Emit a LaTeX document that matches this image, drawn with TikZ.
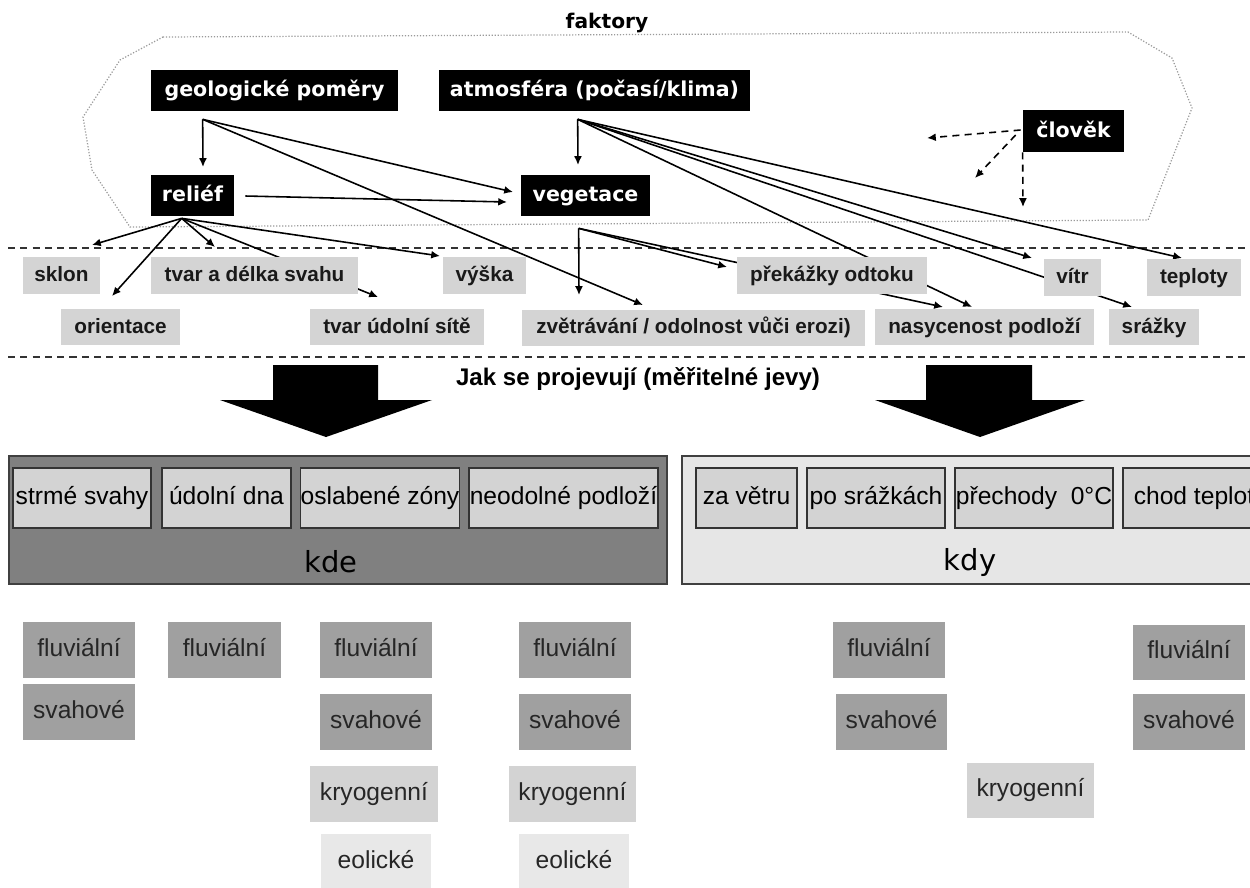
\documentclass[tikz,border=0pt]{standalone}
\usepackage{fontspec}
\setmainfont{Liberation Sans}
\newfontfamily\dvs{DejaVu Sans}
\usetikzlibrary{arrows.meta,calc}
\pgfdeclarelayer{bg}
\pgfsetlayers{bg,main}
\definecolor{lblc}{HTML}{D4D4D4}
\definecolor{kdec}{HTML}{808080}
\definecolor{kdyc}{HTML}{E6E6E6}
\definecolor{iboxc}{HTML}{D3D3D3}
\definecolor{dgc}{HTML}{A0A0A0}
\definecolor{lgc}{HTML}{D3D3D3}
\definecolor{vlgc}{HTML}{E8E8E8}
\definecolor{cloudc}{HTML}{9A9A9A}
\begin{document}
\begin{tikzpicture}[x=0.02cm,y=-0.02cm,
  sz/.style 2 args={minimum width=#1*0.02cm, minimum height=#2*0.02cm},
  even/.style={text height=0.9em, text depth=0.21em},
  blk/.style={fill=black, text=white, inner sep=0pt, even, font=\dvs\bfseries\fontsize{11.7}{13}\selectfont},
  lbl/.style={fill=lblc, text=black!90, inner sep=0pt, even, font=\bfseries\fontsize{11.8}{13}\selectfont},
  ibx/.style={fill=iboxc, draw=black!80, line width=0.7pt, inner sep=0pt, even, font=\fontsize{14}{16}\selectfont},
  bbx/.style={inner sep=0pt, text=black!85, even, font=\fontsize{14}{16}\selectfont},
  bigbox/.style={draw=black!75, line width=0.7pt, inner sep=0pt},
  arr/.style={-{Latex[length=5pt,width=4.5pt]}, line width=0.9pt},
  darr/.style={arr, dash pattern=on 4pt off 3pt},
  dashln/.style={line width=0.7pt, dash pattern=on 4pt off 3pt, black!80},
  ttl/.style={inner sep=0pt, anchor=base, font=\bfseries\fontsize{13.7}{15}\selectfont}
]
\useasboundingbox (0,0) rectangle (1250,887);
\clip (0,0) rectangle (1250,887);

% ---------- top titles ----------
\node[ttl, font=\dvs\bfseries\fontsize{11.5}{13}\selectfont] (fakt) at (607,28) {faktory};

% ---------- black factor nodes ----------
\node[blk, sz={247}{41}] (geol) at (274.5,90.5) {geologické poměry};
\node[blk, sz={311}{41}] (atm) at (594.5,90.5) {atmosféra (počasí/klima)};
\node[blk, sz={83}{41}] (relief) at (192.5,195.5) {reliéf};
\node[blk, sz={129}{41}] (veg) at (585.5,195.5) {vegetace};
\node[blk, sz={101}{42}] (clovek) at (1073.5,131) {člověk};

% ---------- grey labels ----------
\node[lbl, sz={77}{37}] (sklon) at (61.5,275.5) {sklon};
\node[lbl, sz={207}{37}] (tvar) at (254.5,275.5) {tvar a délka svahu};
\node[lbl, sz={83}{37}] (vyska) at (484.5,275.5) {výška};
\node[lbl, sz={190}{37}] (prek) at (832,275.5) {překážky odtoku};
\node[lbl, sz={57}{37}] (vitr) at (1072.5,277.5) {vítr};
\node[lbl, sz={94}{37}] (tepl) at (1194,277.5) {teploty};
\node[lbl, sz={119}{36}] (orient) at (120.5,327) {orientace};
\node[lbl, sz={174}{36}] (udol) at (397,327) {tvar údolní sítě};
\node[lbl, sz={343}{36}] (zvetr) at (693.5,327.5) {zvětrávání / odolnost vůči erozi)};
\node[lbl, sz={219}{36}] (nasyc) at (984.5,327) {nasycenost podloží};
\node[lbl, sz={90}{36}] (srazky) at (1154,327) {srážky};

\node[ttl] (jak) at (638,385) {Jak se projevují (měřitelné jevy)};

% ---------- big down arrows ----------
\fill (273,365) -- (378,365) -- (378,400) -- (432,400) -- (326,437) -- (220,400) -- (273,400) -- cycle;
\fill (926,365) -- (1032,365) -- (1032,400) -- (1085,400) -- (980,437) -- (875,400) -- (926,400) -- cycle;

% ---------- kde / kdy ----------
\node[bigbox, fill=kdec, sz={658}{128}] (kde) at (338,520) {};
\node[bigbox, fill=kdyc, sz={578}{128}] (kdy) at (971,520) {};
\node[inner sep=0pt, font=\dvs\fontsize{16.5}{18}\selectfont] (kdet) at (331,562) {kde};
\node[inner sep=0pt, font=\dvs\fontsize{16.5}{18}\selectfont] (kdyt) at (970,562) {kdy};

\node[ibx, sz={138}{60}] (strme) at (82,498) {strmé svahy};
\node[ibx, sz={129}{60}] (udna) at (226.5,498) {údolní dna};
\node[ibx, sz={158}{60}] (oslab) at (380,498) {oslabené zóny};
\node[ibx, sz={189}{60}] (neod) at (563.5,498) {neodolné podloží};
\node[ibx, sz={101}{60}] (zavetru) at (746.5,498) {za větru};
\node[ibx, sz={138}{60}] (posraz) at (876,498) {po srážkách};
\node[ibx, sz={158}{60}] (prech) at (1034,498) {přechody\ \ 0°C};
\node[ibx, sz={142}{60}] (chod) at (1194,498) {chod teplot};

% ---------- bottom process boxes ----------
\node[bbx, fill=dgc, sz={112}{56}] (f1) at (79,650) {fluviální};
\node[bbx, fill=dgc, sz={112}{56}] (s1) at (79,712) {svahové};
\node[bbx, fill=dgc, sz={113}{56}] (f2) at (224.5,650) {fluviální};
\node[bbx, fill=dgc, sz={112}{56}] (f3) at (376,650) {fluviální};
\node[bbx, fill=dgc, sz={112}{56}] (s3) at (376,722) {svahové};
\node[bbx, fill=lgc, sz={128}{56}] (k3) at (374,794) {kryogenní};
\node[bbx, fill=vlgc, sz={110}{56}] (e3) at (376,862) {eolické};
\node[bbx, fill=dgc, sz={112}{56}] (f4) at (575,650) {fluviální};
\node[bbx, fill=dgc, sz={112}{56}] (s4) at (575,722) {svahové};
\node[bbx, fill=lgc, sz={127}{56}] (k4) at (572.5,794) {kryogenní};
\node[bbx, fill=vlgc, sz={110}{56}] (e4) at (574,862) {eolické};
\node[bbx, fill=dgc, sz={112}{56}] (f5) at (889,650) {fluviální};
\node[bbx, fill=dgc, sz={111}{56}] (s5) at (891.5,722) {svahové};
\node[bbx, fill=lgc, sz={127}{55}] (k5) at (1030.5,790.5) {kryogenní};
\node[bbx, fill=dgc, sz={112}{55}] (f6) at (1189,652.5) {fluviální};
\node[bbx, fill=dgc, sz={112}{56}] (s6) at (1189,722) {svahové};

% ---------- connector anchors ----------
\coordinate (gs) at ($(geol.south west)+(52,8)$);
\coordinate (as) at ($(atm.south west)+(139,8)$);
\coordinate (rs) at ($(relief.south west)+(31,2)$);
\coordinate (rv) at ($(relief.east)+(11,0.5)$);
\coordinate (vs) at ($(veg.south west)+(58,12)$);
\coordinate (ks1) at ($(clovek.west)+(-2,-1)$);
\coordinate (ks2) at ($(clovek.west)+(-7,4)$);
\coordinate (ks3) at (clovek.south west);

\coordinate (in-relief) at (203,167);
\coordinate (in-veg1) at (513,192);
\coordinate (in-veg2) at (507,202);
\coordinate (in-veg3) at (578,165);
\coordinate (in-zvetr1) at (643,305);
\coordinate (in-zvetr2) at (579,295);
\coordinate (in-sklon) at (92,245);
\coordinate (in-orient) at (112,296);
\coordinate (in-tvar) at (215,247);
\coordinate (in-udol) at (378,297);
\coordinate (in-vyska) at (440,256);
\coordinate (in-nasyc1) at (972,307);
\coordinate (in-nasyc2) at (943,307);
\coordinate (in-vitr) at (1032,258);
\coordinate (in-srazky) at (1132,307);
\coordinate (in-tepl) at (1182,258);
\coordinate (in-prek) at (727,267);
\coordinate (cl1) at (927,138);
\coordinate (cl2) at (975,178);
\coordinate (cl3) at (1023,207);

\begin{pgfonlayer}{bg}
% factor cloud
\draw[cloudc, densely dotted, line width=0.7pt]
  (163,37) -- (1128,32) -- (1172,58) -- (1192,108) -- (1148,220)
  -- (130,227) -- (92,170) -- (83,117) -- (120,60) -- cycle;
% separators
\draw[dashln] (8,248) -- (1250,248);
\draw[dashln] (8,357) -- (1250,357);

% geologicke pomery
\draw[arr] (gs) -- (in-relief);
\draw[arr] (gs) -- (in-veg1);
\draw[arr] (gs) -- (in-zvetr1);
% relief
\draw[arr] (rv) -- (in-veg2);
\draw[arr] (rs) -- (in-sklon);
\draw[arr] (rs) -- (in-orient);
\draw[arr] (rs) -- (in-tvar);
\draw[arr] (rs) -- (in-udol);
\draw[arr] (rs) -- (in-vyska);
% atmosfera
\draw[arr] (as) -- (in-veg3);
\draw[arr] (as) -- (in-nasyc1);
\draw[arr] (as) -- (in-vitr);
\draw[arr] (as) -- (in-srazky);
\draw[arr] (as) -- (in-tepl);
% vegetace
\draw[arr] (vs) -- (in-zvetr2);
\draw[arr] (vs) -- (in-prek);
\draw[arr] (vs) -- (in-nasyc2);
% clovek
\draw[darr] (ks1) -- (cl1);
\draw[darr] (ks2) -- (cl2);
\draw[darr] (ks3) -- (cl3);
\end{pgfonlayer}
\end{tikzpicture}
\end{document}
